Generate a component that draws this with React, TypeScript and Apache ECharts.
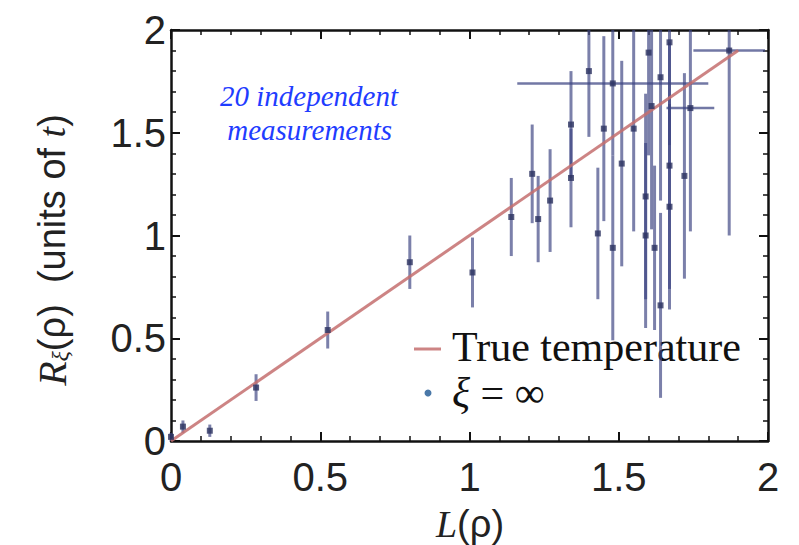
import React, { useEffect, useRef } from "react";
import * as echarts from "echarts";

// measurements: L(rho), R_xi(rho), vertical error, horizontal error
const xs = [0.0, 0.04, 0.13, 0.285, 0.525, 0.8, 1.01, 1.14, 1.21, 1.23, 1.27, 1.34, 1.34, 1.4, 1.43, 1.45, 1.48, 1.48, 1.51, 1.55, 1.59, 1.59, 1.6, 1.61, 1.62, 1.64, 1.64, 1.67, 1.67, 1.67, 1.72, 1.74, 1.87];
const ys = [0.02, 0.07, 0.05, 0.26, 0.54, 0.87, 0.82, 1.09, 1.3, 1.08, 1.17, 1.54, 1.28, 1.8, 1.01, 1.52, 0.94, 1.74, 1.35, 1.52, 1.0, 1.19, 1.89, 1.63, 0.94, 0.66, 1.77, 1.94, 1.34, 1.14, 1.29, 1.62, 1.9];
const yErr = [0.02, 0.03, 0.03, 0.065, 0.09, 0.13, 0.17, 0.19, 0.24, 0.21, 0.25, 0.26, 0.24, 0.32, 0.32, 0.45, 0.45, 0.35, 0.5, 0.5, 0.45, 0.5, 0.5, 0.6, 0.4, 0.45, 0.6, 0.5, 0.6, 0.5, 0.5, 0.6, 0.9];
const xErr = [0, 0, 0, 0, 0, 0, 0, 0, 0, 0, 0, 0, 0, 0, 0, 0, 0, 0.32, 0, 0, 0, 0, 0, 0, 0, 0, 0, 0, 0, 0, 0, 0.08, 0.12];
const trueLine = [[0, 0], [1.9, 1.9]];
const tickLabels = ["0", "0.5", "1", "1.5", "2"];

const AX_MIN = 0;
const AX_MAX = 2;

export default function App() {
  const ref = useRef<HTMLDivElement>(null);
  useEffect(() => {
    if (!ref.current) return;
    const chart = echarts.init(ref.current, null, { renderer: "svg" });
    const clamp = (v: number) => Math.max(AX_MIN, Math.min(AX_MAX, v));
    const errData = xs.map((x, i) => [x, ys[i], yErr[i], xErr[i]]);
    const scatterData = xs.map((x, i) => [x, ys[i]]);
    const labelFont = "'Liberation Sans Narrow', 'Liberation Sans', sans-serif";
    const tickStyle = { show: true, inside: true, length: 9, lineStyle: { color: "#111", width: 2 } };
    const minorStyle = { show: true, splitNumber: 5, length: 5, lineStyle: { color: "#111", width: 1.5 } };
    const fmt = (v: number) => tickLabels[Math.round(v * 2)] ?? String(v);
    chart.setOption({
      animation: false,
      backgroundColor: "#fff",
      grid: { left: 171, right: 31, top: 30, bottom: 104, containLabel: false },
      xAxis: [
        {
          type: "value", min: AX_MIN, max: AX_MAX, interval: 0.5,
          axisLine: { show: true, onZero: false, lineStyle: { color: "#111", width: 2.5 } },
          axisTick: tickStyle, minorTick: minorStyle, splitLine: { show: false },
          axisLabel: { fontSize: 40, fontFamily: labelFont, color: "#222", margin: 16, formatter: fmt },
        },
        {
          type: "value", position: "top", min: AX_MIN, max: AX_MAX, interval: 0.5,
          axisLine: { show: true, onZero: false, lineStyle: { color: "#111", width: 2.5 } },
          axisTick: tickStyle, minorTick: minorStyle, splitLine: { show: false },
          axisLabel: { show: false },
        },
      ],
      yAxis: [
        {
          type: "value", min: AX_MIN, max: AX_MAX, interval: 0.5,
          axisLine: { show: true, onZero: false, lineStyle: { color: "#111", width: 2.5 } },
          axisTick: tickStyle, minorTick: minorStyle, splitLine: { show: false },
          axisLabel: { fontSize: 40, fontFamily: labelFont, color: "#222", margin: 5, formatter: fmt },
        },
        {
          type: "value", position: "right", min: AX_MIN, max: AX_MAX, interval: 0.5,
          axisLine: { show: true, onZero: false, lineStyle: { color: "#111", width: 2.5 } },
          axisTick: tickStyle, minorTick: minorStyle, splitLine: { show: false },
          axisLabel: { show: false },
        },
      ],
      series: [
        {
          type: "custom",
          name: "errors",
          data: errData,
          z: 3,
          renderItem: (params: any, api: any) => {
            const x = api.value(0);
            const y = api.value(1);
            const ey = api.value(2);
            const ex = api.value(3);
            const top = api.coord([x, clamp(y + ey)]);
            const bot = api.coord([x, clamp(y - ey)]);
            const children: any[] = [
              {
                type: "line",
                shape: { x1: top[0], y1: top[1], x2: bot[0], y2: bot[1] },
                style: { stroke: "rgba(60,68,130,0.68)", lineWidth: 3 },
              },
            ];
            if (ex > 0) {
              const l = api.coord([clamp(x - ex), y]);
              const r = api.coord([clamp(x + ex), y]);
              children.push({
                type: "line",
                shape: { x1: l[0], y1: l[1], x2: r[0], y2: r[1] },
                style: { stroke: "rgba(60,68,130,0.72)", lineWidth: 2.5 },
              });
            }
            return { type: "group", children };
          },
        },
        {
          type: "line",
          name: "True temperature",
          data: trueLine,
          symbol: "none",
          z: 4,
          lineStyle: { color: "rgba(196,110,110,0.85)", width: 3 },
        },
        {
          type: "scatter",
          name: "xi",
          data: scatterData,
          symbol: "rect",
          symbolSize: 6,
          z: 5,
          itemStyle: { color: "#2c3260" },
        },
      ],
      graphic: [
        {
          type: "text", left: 220, top: 79,
          style: {
            text: "20 independent\n measurements", fill: "#1f3dff",
            font: "italic 29px 'Liberation Serif', serif", lineHeight: 34, align: "left",
          },
        },
        {
          type: "line", shape: { x1: 414, y1: 349, x2: 441, y2: 349 },
          style: { stroke: "rgba(196,110,110,0.85)", lineWidth: 3 },
        },
        {
          type: "text", x: 452, y: 347,
          style: {
            text: "True temperature", fill: "#111",
            font: "42px 'Liberation Serif', serif", verticalAlign: "middle",
          },
        },
        {
          type: "circle", shape: { cx: 428, cy: 393, r: 3.5 },
          style: { fill: "#4a78a8" },
        },
        {
          type: "text", x: 452, y: 393,
          style: {
            text: "{i|ξ} = ∞", fill: "#111",
            font: "42px 'Liberation Serif', serif", verticalAlign: "middle",
            rich: { i: { font: "italic 42px 'Liberation Serif', serif", fill: "#111" } },
          },
        },
        {
          type: "text", x: 470, y: 524,
          style: {
            text: "{i|L}{s|(ρ)}", align: "center", verticalAlign: "middle",
            rich: {
              i: { font: "italic 38px 'Liberation Serif', serif", fill: "#222" },
              s: { font: "38px 'Liberation Sans Narrow', 'Liberation Sans', sans-serif", fill: "#222" },
            },
          },
        },
        {
          type: "text", x: 52, y: 250, rotation: Math.PI / 2,
          style: {
            text: "{i|R}{sub|ξ}{s|(ρ)  (units of }{i2|t}{s|)}", align: "center", verticalAlign: "middle",
            rich: {
              i: { font: "italic 40px 'Liberation Serif', serif", fill: "#222" },
              sub: { font: "italic 24px 'Liberation Serif', serif", fill: "#222", padding: [16, 0, 0, 0] },
              s: { font: "38px 'Liberation Sans Narrow', 'Liberation Sans', sans-serif", fill: "#222" },
              i2: { font: "italic 38px 'Liberation Serif', serif", fill: "#222" },
            },
          },
        },
      ],
    });
    return () => chart.dispose();
  }, []);
  return <div ref={ref} style={{ width: 799, height: 545, position: "absolute", left: 0, top: 0 }} />;
}
